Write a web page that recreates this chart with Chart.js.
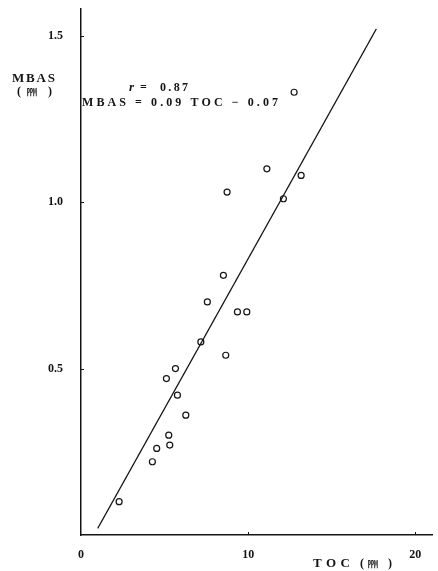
<!DOCTYPE html>
<html>
<head>
<meta charset="utf-8">
<script src="https://cdn.jsdelivr.net/npm/chart.js@4/dist/chart.umd.min.js"></script>
<style>
  html, body { margin: 0; padding: 0; background: #fff; }
  #wrap { width: 438px; height: 571px; position: relative; }
</style>
</head>
<body>
<div id="wrap"><canvas id="c" width="438" height="571"></canvas></div>
<script>
// TOC (ppm) vs MBAS (ppm) samples
const tocValues  = [12.75, 11.12, 13.17, 8.74, 12.11, 8.52, 7.56, 9.36, 9.92, 7.17,
                    8.66, 5.65, 5.11, 5.77, 6.27, 5.25, 5.31, 4.53, 4.27, 2.28];
const mbasValues = [1.33, 1.10, 1.08, 1.03, 1.01, 0.78, 0.70, 0.67, 0.67, 0.58,
                    0.54, 0.50, 0.47, 0.42, 0.36, 0.30, 0.27, 0.26, 0.22, 0.10];

// Regression line MBAS = 0.09 TOC - 0.07, drawn over this TOC span
const fitSlope = 0.09;
const fitIntercept = -0.07;
const fitTocRange = [1.0, 17.67];

const xTickValues = [0, 10, 20];
const yTickValues = [0.5, 1.0, 1.5];

const scatterData = tocValues.map((t, i) => ({ x: t, y: mbasValues[i] }));
const fitData = fitTocRange.map(t => ({ x: t, y: fitSlope * t + fitIntercept }));

const INK = '#141414';
const SERIF = '"Liberation Serif", "DejaVu Serif", "Noto Sans CJK JP", serif';
const tickFont = { family: SERIF, size: 12, weight: 'bold' };

// Draw a string with its characters spread evenly to fill a given width
function drawSpread(ctx, text, x, y, width, font) {
  ctx.font = font;
  const chars = Array.from(text);
  const widths = chars.map(c => ctx.measureText(c).width);
  const natural = widths.reduce((a, b) => a + b, 0);
  const gap = chars.length > 1 ? (width - natural) / (chars.length - 1) : 0;
  let cx = x;
  chars.forEach((c, i) => {
    ctx.fillText(c, cx, y);
    cx += widths[i] + gap;
  });
}

const textPlugin = {
  id: 'axisText',
  afterDraw(chart) {
    const ctx = chart.ctx;
    const xs = chart.scales.x, ys = chart.scales.y;
    ctx.save();
    // short inward tick marks
    ctx.strokeStyle = INK;
    ctx.lineWidth = 1;
    ctx.beginPath();
    xTickValues.forEach(v => {
      if (v === 0) return;
      const px = Math.round(xs.getPixelForValue(v)) + 0.5;
      ctx.moveTo(px, ys.bottom);
      ctx.lineTo(px, ys.bottom - 3);
    });
    yTickValues.forEach(v => {
      const py = Math.round(ys.getPixelForValue(v)) + 0.5;
      ctx.moveTo(xs.left, py);
      ctx.lineTo(xs.left + 3, py);
    });
    ctx.stroke();

    ctx.fillStyle = INK;
    ctx.textBaseline = 'middle';
    ctx.textAlign = 'left';
    const bold12 = 'bold 12px ' + SERIF;
    const bold13 = 'bold 13px ' + SERIF;
    const unitFont = 'bold 10px "Noto Sans CJK JP", sans-serif';

    // y-axis title
    drawSpread(ctx, 'MBAS', 12, 79, 43, bold13);
    ctx.font = bold12;
    ctx.fillText('(', 17, 92);
    ctx.fillText(')', 48, 92);
    ctx.font = unitFont;
    ctx.fillText('㏙', 27, 92);

    // x-axis title
    drawSpread(ctx, 'TOC', 313, 564, 37, bold13);
    ctx.font = bold12;
    ctx.fillText('(', 360, 564);
    ctx.fillText(')', 388, 564);
    ctx.font = unitFont;
    ctx.fillText('㏙', 368, 564);

    // correlation and regression equation
    ctx.font = 'bold italic 13px ' + SERIF;
    ctx.fillText('r', 129, 88);
    drawSpread(ctx, '=  0.87', 140, 88, 48, bold12);
    drawSpread(ctx, 'MBAS = 0.09 TOC − 0.07', 82, 103, 196, bold12);
    ctx.restore();
  }
};

new Chart(document.getElementById('c'), {
  type: 'scatter',
  data: {
    datasets: [
      {
        label: 'samples',
        data: scatterData,
        showLine: false,
        pointRadius: 3,
        pointHoverRadius: 3,
        pointBackgroundColor: 'rgba(255,255,255,0)',
        pointBorderColor: INK,
        pointBorderWidth: 1.2
      },
      {
        label: 'fit',
        type: 'line',
        data: fitData,
        borderColor: INK,
        borderWidth: 1.2,
        pointRadius: 0,
        fill: false,
        tension: 0
      }
    ]
  },
  options: {
    responsive: false,
    animation: false,
    devicePixelRatio: 1,
    layout: { padding: { top: 9, right: 6, left: 0, bottom: 0 } },
    plugins: { legend: { display: false }, tooltip: { enabled: false } },
    scales: {
      x: {
        type: 'linear',
        min: 0,
        max: 21,
        afterBuildTicks: s => { s.ticks = xTickValues.map(v => ({ value: v })); },
        afterFit: s => { s.height = 36; s.paddingLeft = 0; s.paddingRight = 0; },
        grid: { display: false },
        border: { display: true, color: INK, width: 1.5 },
        ticks: {
          color: INK, font: tickFont, padding: 5,
          maxRotation: 0, autoSkip: false,
          callback: v => String(v)
        }
      },
      y: {
        type: 'linear',
        min: 0,
        max: 1.58,
        afterBuildTicks: s => { s.ticks = yTickValues.map(v => ({ value: v })); },
        afterFit: s => { s.width = 81; s.paddingTop = 0; s.paddingBottom = 0; },
        grid: { display: false },
        border: { display: true, color: INK, width: 1.5 },
        ticks: {
          color: INK, font: tickFont, padding: 10,
          autoSkip: false,
          callback: v => Number(v).toFixed(1)
        }
      }
    }
  },
  plugins: [textPlugin]
});
</script>
</body>
</html>
